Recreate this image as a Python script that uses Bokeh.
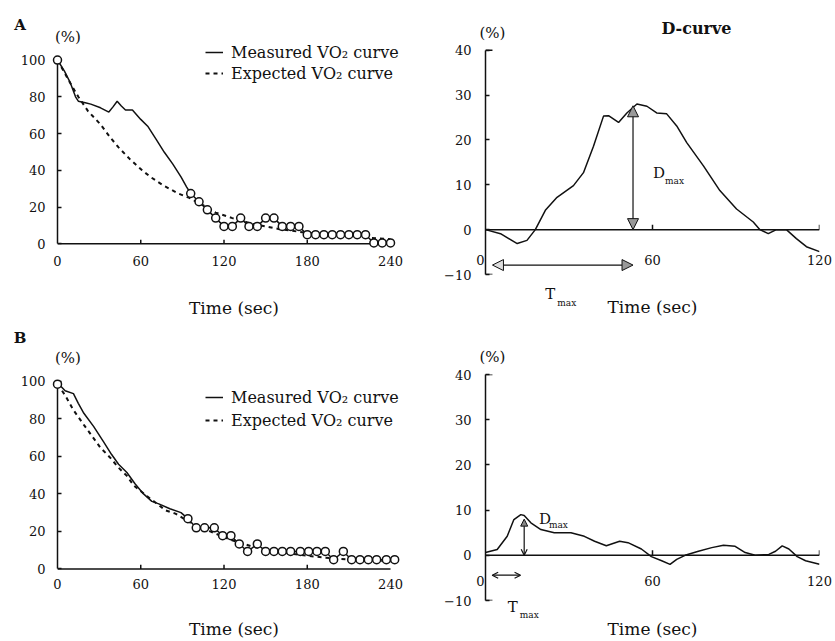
from bokeh.plotting import figure
from bokeh.layouts import column, row
from bokeh.models import (ColumnDataSource, Range1d, FixedTicker, Legend, LegendItem,
                          Span, Arrow, NormalHead, OpenHead)
from bokeh.core.properties import value
from bokeh.embed import file_html
from bokeh.resources import INLINE

FONT = "DejaVu Serif"
INK = "#111111"

# ---------------- data ----------------
vo2_xticks = [0, 60, 120, 180, 240]
vo2_xlabels = ["0", "60", "120", "180", "240"]
vo2_yticks = [0, 20, 40, 60, 80, 100]
d_xticks = [0, 60, 120]
d_xlabels = ["0", "60", "120"]
d_yticks = [-10, 0, 10, 20, 30, 40]

# Panel A (VO2 recovery, % of peak)
a_meas_t = [0, 5, 9, 13, 15, 20, 24, 31, 37, 40, 43, 46, 49, 54, 60, 65, 71, 77, 83, 89, 93, 96]
a_meas_v = [100, 94, 88, 80, 77.6, 76.8, 76, 74, 71.7, 74.5, 77.6, 75, 72.8, 72.8, 67.7, 64, 57, 49.8, 43.5, 36.4, 31, 27.4]
a_exp_t = [0, 8, 15, 22, 31, 38, 44, 52, 61, 67, 76, 87, 95, 105, 114, 126, 140, 160, 180, 200, 220, 240]
a_exp_v = [100, 89, 80, 72.2, 65, 57.9, 52.5, 46.2, 40, 36.4, 31.9, 27.4, 25, 21, 17, 14, 11, 8, 6, 4.5, 3.5, 2.5]
a_circ_t = [0, 96, 102, 108, 114, 120, 126, 132, 138, 144, 150, 156, 162, 168, 174, 180,
            186, 192, 198, 204, 210, 216, 222, 228, 234, 240]
a_circ_v = [100, 27.4, 22.9, 18.5, 14, 9.5, 9.5, 14, 9.5, 9.5, 14, 14, 9.5, 9.5, 9.5, 5,
            5, 5, 5, 5, 5, 5, 5, 0.5, 0.5, 0.5]

# Panel A D-curve
a_d_t = [0, 5.4, 11.4, 14.9, 17.9, 21.5, 25.7, 31.6, 35.2, 38.8, 42.4, 44.2, 47.8, 50.8, 54.4,
         58, 61.5, 65.1, 68.7, 72.3, 78.3, 84.2, 90.2, 96.2, 98.6, 101.6, 104.5, 108.1, 111.7, 115.3, 120]
a_d_v = [0, -0.9, -3.1, -2.4, 0, 4.3, 7.2, 9.8, 12.7, 18.6, 25.3, 25.4, 23.9, 26, 28,
         27.5, 26, 25.8, 23.1, 19.4, 14.2, 8.7, 4.6, 1.7, 0, -0.9, 0, 0, -2, -3.8, -4.9]
a_dmax_t, a_dmax = 53, 27.6
a_tmax_start, a_tmax_end, a_tmax_y = 2.5, 53, -7.9

# Panel B (VO2 recovery, % of peak)
b_meas_t = [0, 1, 5.5, 11.5, 15, 19, 26, 33, 39, 44, 50, 56, 62, 68, 73, 81, 89, 94]
b_meas_v = [98.5, 98.5, 95, 93.5, 88.3, 83, 76, 68, 61, 55.8, 51.4, 45.3, 40, 36, 34.7, 32.1, 30, 26.8]
b_exp_t = [0, 5.5, 11.5, 19, 25, 31, 38, 44, 50, 55, 67, 78, 85, 95, 110, 125, 140, 160, 180, 200, 220, 240]
b_exp_v = [98.5, 92.6, 84.7, 76.8, 70.7, 64.6, 59.3, 54, 49.6, 44.4, 37.4, 31.2, 29.5, 25, 20, 15.5, 12, 9, 7, 5.5, 4.5, 4]
b_circ_t = [0, 94, 100, 106, 113, 119, 125, 131, 137, 144, 150, 156, 162, 168, 175, 181,
            187, 193, 199, 206, 212, 218, 224, 230, 237, 243]
b_circ_v = [98.5, 26.8, 21.9, 21.9, 21.9, 17.7, 17.7, 13.3, 9.3, 13.3, 9.3, 9.3, 9.3, 9.3, 9.3, 9.3,
            9.3, 9.3, 4.9, 9.3, 4.9, 4.9, 4.9, 4.9, 4.9, 4.9]

# Panel B D-curve
b_d_t = [0, 4.2, 7.8, 10.2, 12.7, 13.9, 16.3, 19.9, 24.7, 30.7, 35.5, 39.2, 43.4, 48.2, 51.2, 56,
         59.6, 63.3, 66.3, 68.7, 71.7, 76.5, 81.3, 85.5, 89.7, 93.3, 96.9, 101.8, 104.2, 106.6, 109,
         112, 115, 120]
b_d_v = [0.6, 1.3, 4.2, 7.9, 9.0, 8.8, 7.2, 5.7, 5.0, 5.0, 4.2, 3.1, 2.1, 3.1, 2.8, 1.4,
         -0.3, -1.2, -2.0, -0.9, 0, 0.9, 1.7, 2.2, 2.0, 0.6, 0, 0.2, 0.9, 2.1, 1.4,
         -0.3, -1.2, -2.0]
b_dmax_t, b_dmax = 13.9, 8.0
b_tmax_start, b_tmax_end, b_tmax_y = 2.4, 12.6, -4.4

LEG_MEAS = "Measured VO\u2082 curve"
LEG_EXP = "Expected VO\u2082 curve"


def txt(p, x, y, s, size, align="center", style="normal", baseline="middle"):
    p.text(x=[x], y=[y], text=[s], text_font=value(FONT), text_font_size=size,
           text_align=align, text_baseline=baseline, text_font_style=style,
           text_color=INK, level="overlay")


def style_axes(p):
    for ax in (p.xaxis[0], p.yaxis[0]):
        ax.axis_line_color = INK
        ax.axis_line_width = 1.5
        ax.major_tick_line_color = INK
        ax.major_tick_line_width = 1.5
        ax.major_tick_in = 4
        ax.major_tick_out = 0
        ax.minor_tick_line_color = None
        ax.major_label_text_font = FONT
        ax.major_label_text_font_size = "13px"
        ax.major_label_text_color = INK
        ax.axis_label_text_font = FONT
        ax.axis_label_text_font_style = "normal"
        ax.axis_label_text_font_size = "17px"
        ax.axis_label_text_color = INK
    p.xaxis.ticker = FixedTicker(ticks=[])
    p.xaxis.axis_line_color = None


def base_fig(w, h, xr, yr, bl, br, bt, bb, axlab_stand):
    p = figure(width=w, height=h, x_range=Range1d(*xr), y_range=Range1d(*yr),
               output_backend="svg", toolbar_location=None,
               min_border_left=bl, min_border_right=br, min_border_top=bt, min_border_bottom=bb)
    p.outline_line_color = None
    p.grid.visible = False
    p.background_fill_color = "white"
    p.border_fill_color = "white"
    style_axes(p)
    p.xaxis.axis_label = "Time (sec)"
    p.xaxis.axis_label_standoff = axlab_stand
    return p


def vo2_panel(h, tag, mt, mv, et, ev, ct, cv, yr, bt, bb, leg_y, leg_sp, xlab_y,
              tag_y, pct_y, axlab_stand):
    # frame spans 57..410 px; 240 s sits at ~390 px
    p = base_fig(420, h, (0, 254.4), yr, 57, 10, bt, bb, axlab_stand)
    p.yaxis.ticker = FixedTicker(ticks=vo2_yticks)
    p.yaxis.bounds = (vo2_yticks[0], vo2_yticks[-1])
    p.yaxis.major_label_standoff = 12
    # x axis drawn on the zero line
    p.segment(x0=[vo2_xticks[0]], y0=[0], x1=[vo2_xticks[-1]], y1=[0], line_color=INK, line_width=1.5)
    p.segment(x0=vo2_xticks[1:-1], y0=[0] * 3, x1=vo2_xticks[1:-1], y1=[2.2] * 3,
              line_color=INK, line_width=1.5)
    p.text(x=vo2_xticks, y=[xlab_y] * len(vo2_xticks), text=vo2_xlabels, text_font=value(FONT),
           text_font_size="13px", text_align="center", text_baseline="middle",
           text_color=INK, level="overlay")
    r_exp = p.line(et, ev, line_color=INK, line_width=2, line_dash="4 4")
    r_meas = p.line(mt + ct[1:], mv + cv[1:], line_color=INK, line_width=1.5)
    p.scatter(ct, cv, marker="circle", size=8, fill_color="white", line_color=INK,
              line_width=1.5, level="overlay")
    leg = Legend(items=[LegendItem(label=LEG_MEAS, renderers=[r_meas]),
                        LegendItem(label=LEG_EXP, renderers=[r_exp])],
                 location=(148, leg_y), glyph_width=18, glyph_height=20, label_height=20,
                 spacing=leg_sp, padding=0, margin=0, label_standoff=8,
                 border_line_color=None, background_fill_alpha=0,
                 label_text_font=FONT, label_text_font_size="16px", label_text_color=INK)
    p.add_layout(leg)
    txt(p, -27, tag_y, tag, "15px", style="bold")
    txt(p, 7.5, pct_y, "(%)", "15px")
    return p


def d_panel(h, dt, dv, yr, bt, bb, dmax_t, dmax, tmax0, tmax1, tmax_y, lab_y,
            dlab, tlab, title, open_heads, axlab_stand):
    p = base_fig(415, h, (0, 120), yr, 65, 16, bt, bb, axlab_stand)
    p.yaxis.ticker = FixedTicker(ticks=d_yticks)
    p.yaxis.bounds = (d_yticks[0], d_yticks[-1])
    p.yaxis.major_label_standoff = 14
    p.add_layout(Span(location=0, dimension="width", line_color=INK, line_width=1.5))
    # axis end caps and x ticks on the zero line
    p.segment(x0=[0, 0], y0=[d_yticks[0], d_yticks[-1]], x1=[2.5, 2.5],
              y1=[d_yticks[0], d_yticks[-1]], line_color=INK, line_width=1.5)
    p.segment(x0=d_xticks[1:], y0=[0, 0], x1=d_xticks[1:], y1=[1.1, 1.1],
              line_color=INK, line_width=1.5)
    src = ColumnDataSource(dict(x=d_xticks, y=[lab_y] * len(d_xticks), text=d_xlabels,
                                dx=[-5, 0, 0]))
    p.text(x="x", y="y", text="text", x_offset="dx", source=src, text_font=value(FONT),
           text_font_size="13px", text_align="center", text_baseline="middle",
           text_color=INK, level="overlay")
    p.line(dt, dv, line_color=INK, line_width=1.5)
    if open_heads:
        p.add_layout(Arrow(start=OpenHead(size=6, line_color=INK, line_width=1.2),
                           end=NormalHead(size=7, fill_color="#888", line_color=INK),
                           x_start=dmax_t, y_start=0, x_end=dmax_t, y_end=dmax,
                           line_color=INK, line_width=1.2))
        p.add_layout(Arrow(start=OpenHead(size=6, line_color=INK, line_width=1.2),
                           end=OpenHead(size=6, line_color=INK, line_width=1.2),
                           x_start=tmax0, y_start=tmax_y, x_end=tmax1, y_end=tmax_y,
                           line_color=INK, line_width=1.2))
    else:
        p.add_layout(Arrow(start=NormalHead(size=11, fill_color="#999", line_color=INK),
                           end=NormalHead(size=11, fill_color="#999", line_color=INK),
                           x_start=dmax_t, y_start=0, x_end=dmax_t, y_end=dmax,
                           line_color=INK, line_width=1.2))
        p.add_layout(Arrow(start=NormalHead(size=11, fill_color="#ddd", line_color=INK),
                           end=NormalHead(size=11, fill_color="#999", line_color=INK),
                           x_start=tmax0, y_start=tmax_y, x_end=tmax1, y_end=tmax_y,
                           line_color=INK, line_width=1.2))
    (dx, dy, mx, my) = dlab
    txt(p, dx, dy, "D", "15px", align="left")
    txt(p, mx, my, "max", "9px", align="left")
    (tx, ty, nx, ny) = tlab
    txt(p, tx, ty, "T", "15px", align="left")
    txt(p, nx, ny, "max", "9px", align="left")
    txt(p, 2.5, 43.9, "(%)", "15px")
    if title:
        txt(p, 75.8, 44.9, title, "16px", style="bold")
    return p


# Row A frame: y 20..277 px; row B frame: y 374..603 px
pA = vo2_panel(320, "A", a_meas_t, a_meas_v, a_exp_t, a_exp_v, a_circ_t, a_circ_v,
               yr=(-16.67, 121.5), bt=20, bb=43, leg_y=191, leg_sp=1, xlab_y=-9.1,
               tag_y=118.8, pct_y=112.4, axlab_stand=23)
pB = vo2_panel(321, "B", b_meas_t, b_meas_v, b_exp_t, b_exp_v, b_circ_t, b_circ_v,
               yr=(-16.84, 103.68), bt=54, bb=38, leg_y=170, leg_sp=3, xlab_y=-8.3,
               tag_y=123.2, pct_y=112.6, axlab_stand=18)
pAD = d_panel(320, a_d_t, a_d_v, yr=(-10, 46.61), bt=20, bb=43, dmax_t=a_dmax_t, dmax=a_dmax,
              tmax0=a_tmax_start, tmax1=a_tmax_end, tmax_y=a_tmax_y, lab_y=-6.8,
              dlab=(60.2, 12.6, 64.5, 10.8), tlab=(21.5, -14.4, 25.8, -16.4),
              title="D-curve", open_heads=False, axlab_stand=22)
pBD = d_panel(321, b_d_t, b_d_v, yr=(-10, 40), bt=54, bb=38, dmax_t=b_dmax_t, dmax=b_dmax,
              tmax0=b_tmax_start, tmax1=b_tmax_end, tmax_y=b_tmax_y, lab_y=-5.6,
              dlab=(19.2, 8.1, 22.8, 6.8), tlab=(8, -11.4, 12.3, -13.2),
              title=None, open_heads=True, axlab_stand=18)

layout = column(row(pA, pAD), row(pB, pBD))
open("out.html", "w").write(file_html(layout, INLINE))
